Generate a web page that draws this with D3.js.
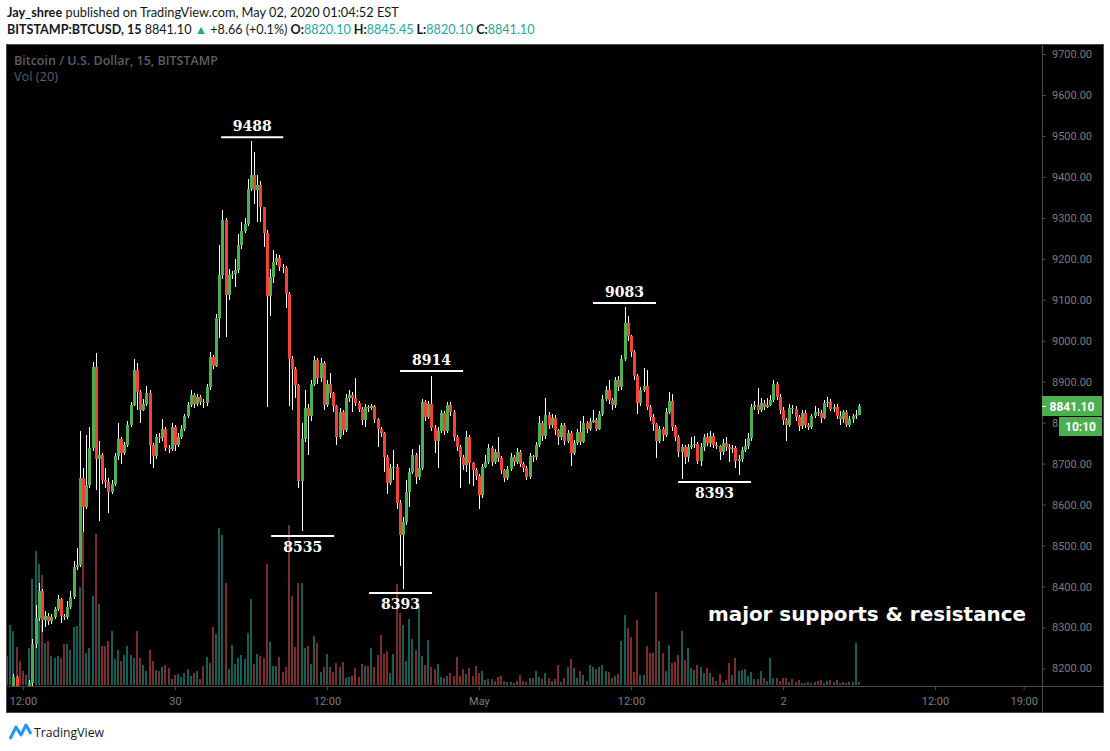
<!DOCTYPE html>
<html>
<head>
<meta charset="utf-8">
<script src="https://cdn.jsdelivr.net/npm/d3@7"></script>
<style>
  body { margin: 0; background: #fff; }
  svg { display: block; }
</style>
</head>
<body>
<svg width="1110" height="751"></svg>
<script>
// BTCUSD 15m candles, Apr 29 - May 2 2020 (open = previous close)
var firstOpen = 8100;
var closes = [
  8120,8138,8178,8150,8132,8118,8126,8165,8260,8322,
  8390,8318,8328,8315,8326,8345,8370,8328,8325,8350,
  8375,8448,8452,8665,8595,8648,8738,8935,8712,8722,
  8660,8655,8630,8650,8718,8760,8726,8745,8795,8843,
  8928,8875,8832,8845,8872,8745,8718,8765,8762,8785,
  8738,8735,8790,8745,8765,8785,8815,8843,8868,8845,
  8862,8850,8848,8887,8960,8938,9055,9160,9295,9112,
  9160,9163,9172,9233,9268,9285,9370,9405,9368,9380,
  9326,9263,9109,9155,9192,9202,9181,9178,9115,8955,
  8930,8892,8657,8760,8835,8815,8895,8952,8908,8945,
  8843,8895,8872,8840,8765,8826,8782,8860,8868,8860,
  8848,8833,8806,8838,8836,8840,8809,8785,8775,8716,
  8653,8690,8692,8604,8525,8557,8630,8680,8721,8668,
  8690,8850,8814,8846,8787,8755,8780,8823,8780,8843,
  8826,8765,8740,8716,8697,8765,8701,8685,8670,8624,
  8692,8705,8738,8705,8728,8714,8684,8665,8688,8717,
  8705,8728,8700,8690,8668,8718,8715,8745,8800,8767,
  8819,8794,8811,8782,8765,8794,8755,8775,8726,8750,
  8777,8753,8799,8785,8802,8807,8785,8821,8858,8880,
  8855,8843,8904,8887,8955,9043,9011,8972,8914,8848,
  8880,8890,8838,8814,8797,8755,8785,8770,8826,8853,
  8790,8765,8728,8740,8716,8740,8745,8748,8706,8740,
  8765,8750,8767,8745,8743,8728,8750,8740,8736,8738,
  8706,8711,8733,8743,8763,8838,8843,8831,8848,8838,
  8843,8855,8894,8863,8831,8806,8794,8836,8833,8814,
  8792,8824,8794,8789,8816,8826,8824,8811,8848,8850,
  8833,8838,8816,8809,8826,8795,8809,8816,8819,8841.1
];
var highs = [
  8132,8145,8186,8182,8155,8138,8135,8172,8272,8355,
  8408,8395,8340,8335,8332,8350,8378,8372,8332,8365,
  8390,8462,8495,8780,8690,8770,8790,8948,8970,8755,
  8725,8690,8665,8660,8725,8800,8765,8752,8805,8850,
  8955,8945,8880,8858,8890,8880,8750,8772,8775,8810,
  8790,8745,8800,8795,8775,8795,8822,8850,8880,8872,
  8870,8868,8858,8895,8972,8965,9065,9233,9318,9300,
  9175,9170,9200,9260,9290,9300,9395,9487,9460,9405,
  9390,9325,9270,9175,9222,9212,9210,9188,9182,9120,
  8962,8935,8895,8800,8880,8845,8905,8962,8958,8958,
  8950,8905,8920,8875,8842,8835,8830,8870,8880,8875,
  8910,8852,8838,8845,8842,8845,8842,8812,8790,8778,
  8720,8700,8732,8700,8610,8570,8660,8690,8735,8725,
  8745,8858,8855,8852,8914,8795,8790,8830,8828,8850,
  8850,8830,8770,8745,8720,8780,8770,8705,8690,8675,
  8700,8720,8748,8742,8735,8765,8718,8688,8695,8725,
  8722,8738,8732,8705,8695,8725,8722,8752,8815,8805,
  8860,8825,8820,8818,8785,8800,8800,8782,8780,8758,
  8785,8805,8815,8805,8812,8830,8812,8828,8868,8890,
  8905,8860,8912,8915,8965,9083,9060,9015,8978,8918,
  8888,8933,8928,8842,8822,8800,8792,8790,8835,8875,
  8870,8795,8770,8748,8745,8748,8765,8768,8752,8750,
  8772,8775,8780,8775,8752,8745,8760,8765,8748,8745,
  8742,8720,8740,8760,8775,8845,8852,8885,8860,8855,
  8860,8868,8904,8900,8870,8838,8812,8845,8842,8840,
  8818,8830,8830,8800,8822,8840,8835,8830,8855,8862,
  8858,8845,8845,8828,8832,8830,8815,8822,8830,8845.45
];
var lows = [
  8092,8112,8130,8140,8120,8105,8110,8120,8158,8250,
  8315,8290,8300,8305,8308,8320,8340,8310,8318,8320,
  8345,8370,8440,8448,8533,8590,8640,8730,8635,8560,
  8650,8640,8580,8625,8645,8710,8700,8720,8740,8790,
  8840,8830,8800,8828,8840,8700,8690,8712,8750,8755,
  8730,8725,8730,8730,8740,8760,8780,8812,8838,8835,
  8840,8842,8835,8840,8880,8930,8935,9006,9150,9008,
  9100,9150,9130,9165,9225,9262,9280,9365,9335,9290,
  9290,9230,8837,9060,9140,9185,9170,9165,9080,8840,
  8830,8860,8640,8535,8752,8722,8805,8890,8895,8900,
  8830,8838,8860,8825,8745,8760,8770,8778,8850,8825,
  8840,8825,8795,8790,8825,8830,8800,8740,8765,8680,
  8626,8648,8660,8590,8450,8393,8550,8595,8675,8650,
  8660,8685,8805,8808,8780,8727,8690,8775,8770,8775,
  8815,8755,8730,8640,8685,8680,8650,8645,8660,8590,
  8615,8690,8700,8695,8700,8705,8675,8655,8660,8683,
  8695,8700,8692,8680,8660,8662,8705,8710,8740,8755,
  8760,8785,8788,8770,8745,8758,8745,8750,8695,8720,
  8745,8745,8750,8775,8780,8798,8780,8782,8815,8852,
  8845,8830,8835,8878,8880,8950,9000,8960,8905,8820,
  8840,8875,8830,8805,8780,8714,8750,8755,8765,8820,
  8780,8755,8715,8662,8700,8705,8735,8738,8700,8695,
  8730,8742,8740,8738,8735,8710,8720,8730,8705,8725,
  8690,8672,8705,8728,8735,8755,8832,8822,8825,8830,
  8835,8840,8850,8855,8820,8795,8755,8790,8820,8805,
  8780,8785,8788,8782,8785,8812,8815,8800,8808,8838,
  8828,8825,8810,8795,8800,8790,8790,8798,8810,8819
];
var volumes = [
  29,60,54,38,24,14,10,37,106,134,
  121,110,42,44,29,27,29,27,41,41,
  35,58,59,98,153,32,37,89,151,81,
  39,39,44,54,26,35,24,30,39,30,
  27,54,27,20,14,35,24,15,14,18,
  20,17,6,10,11,8,12,16,9,12,
  14,6,19,28,22,58,51,157,150,102,
  16,40,21,27,30,26,52,86,21,31,
  29,27,121,43,19,19,28,13,18,160,
  89,38,102,102,37,39,21,49,42,13,
  18,31,18,13,22,18,23,7,8,9,
  17,8,21,19,19,37,18,30,50,31,
  34,12,31,101,72,60,24,66,46,35,
  79,29,20,45,18,16,21,8,7,9,
  12,9,28,9,16,11,17,9,19,12,
  14,5,6,6,4,8,9,4,3,3,
  2,4,10,4,3,7,7,14,8,6,
  12,7,4,6,20,3,7,18,26,17,
  7,14,10,4,20,18,16,18,20,14,
  13,7,9,11,44,70,57,48,13,65,
  10,10,39,32,32,93,44,32,14,40,
  22,23,30,54,25,37,17,15,20,18,
  12,17,12,8,4,11,2,5,22,10,
  27,14,15,16,9,13,6,6,14,7,
  4,27,7,7,4,7,7,3,6,3,
  5,2,2,3,2,3,4,5,2,4,
  5,3,5,2,3,2,3,3,42,3
];

var priceTicks = [8200,8300,8400,8500,8600,8700,8800,8900,9000,9100,9200,9300,9400,9500,9600,9700];
var timeTicks = [
  Date.UTC(2020,3,29,12), Date.UTC(2020,3,30,0), Date.UTC(2020,3,30,12),
  Date.UTC(2020,4,1,0), Date.UTC(2020,4,1,12), Date.UTC(2020,4,2,0),
  Date.UTC(2020,4,2,12), Date.UTC(2020,4,2,19)
];
var timeLabels = ["12:00", "30", "12:00", "May", "12:00", "2", "12:00", "19:00"];

// hand drawn levels (bar index = position in the series)
var annLabels = ["9488", "8535", "8914", "8393", "9083", "8393"];
var annLevels = [9497, 8523, 8926, 8384, 9092, 8655];
var annFrom   = [67.6, 83.4, 124.1, 114.3, 185, 211.9];
var annTo     = [87.2, 103.3, 144, 134.2, 204.9, 234.9];
var annAbove  = [true, false, true, false, true, false];

var lastPrice = 8841.10;
var countdown = "10:10";

var firstBar = Date.UTC(2020, 3, 29, 10, 45),
    barMs = 15 * 60000;

var svg = d3.select("svg"),
    width = +svg.attr("width"),
    height = +svg.attr("height");

var pane = {left: 6, right: 1042, top: 44, bottom: 686},
    frame = {right: 1104, bottom: 713};

var upColor = "#4caf50", downColor = "#f44336",
    volUp = "#175e57", volDown = "#7c2d2b",
    axisGrey = "#7c7c7c", lineGrey = "#4a4a4a";

// 3.167px per 15 minute bar
var pxPerBar = 3.167;
var t0 = firstBar - barMs / 3;
var x = d3.scaleTime()
    .domain([t0, t0 + (pane.right - pane.left) / pxPerBar * barMs])
    .range([pane.left, pane.right]);

var y = d3.scaleLinear()
    .domain([8200, 9700])
    .range([668.4, 54]);

var yVol = d3.scaleLinear()
    .domain([0, d3.max(volumes)])
    .range([pane.bottom - 1, pane.bottom - 161]);

var bars = closes.map(function(c, i) {
    var o = i === 0 ? firstOpen : closes[i - 1];
    return {
        t: firstBar + i * barMs,
        open: o, close: c,
        high: Math.max(highs[i], o, c),
        low: Math.min(lows[i], o, c),
        vol: volumes[i],
        up: c >= o
    };
});

svg.append("rect")
    .attr("width", width).attr("height", height)
    .attr("fill", "#fff");

// shrink a text line until it fits the width it has in the screenshot
function fitWidth(sel, w) {
    var node = sel.node(), fs = parseFloat(sel.style("font-size"));
    var len = node.getComputedTextLength();
    if (len > w) sel.style("font-size", (fs * w / len) + "px");
}

// header lines
var head1 = svg.append("text")
    .attr("x", 7).attr("y", 16.5)
    .style("font-family", "Lato, sans-serif").style("font-size", "13.5px")
    .attr("fill", "#131722");
head1.append("tspan").style("font-weight", "bold").text("Jay_shree");
head1.append("tspan").text(" published on TradingView.com, May 02, 2020 01:04:52 EST");
fitWidth(head1, 392);

var head2 = svg.append("text")
    .attr("x", 7).attr("y", 33.5)
    .style("font-family", "Lato, sans-serif").style("font-size", "13.5px")
    .attr("fill", "#131722");
[
    ["BITSTAMP:BTCUSD, 15 ", "bold", "#131722"],
    ["8841.10 ", "normal", "#131722"],
    ["\u25B2", "normal", "#26a69a"],
    [" +8.66 (+0.1%) ", "normal", "#131722"],
    ["O:", "bold", "#131722"], ["8820.10", "normal", "#26a69a"],
    [" H:", "bold", "#131722"], ["8845.45", "normal", "#26a69a"],
    [" L:", "bold", "#131722"], ["8820.10", "normal", "#26a69a"],
    [" C:", "bold", "#131722"], ["8841.10", "normal", "#26a69a"]
].forEach(function(p) {
    head2.append("tspan").style("font-weight", p[1]).attr("fill", p[2]).text(p[0]);
});
fitWidth(head2, 528);

// dark chart frame
svg.append("rect")
    .attr("x", pane.left + 0.5).attr("y", pane.top + 0.5)
    .attr("width", frame.right - pane.left - 1).attr("height", frame.bottom - pane.top - 1)
    .attr("fill", "#000").attr("stroke", lineGrey);

svg.append("clipPath").attr("id", "paneClip")
    .append("rect")
    .attr("x", pane.left + 1).attr("y", pane.top + 1)
    .attr("width", pane.right - pane.left - 1).attr("height", pane.bottom - pane.top - 1);

var plot = svg.append("g").attr("clip-path", "url(#paneClip)")
    .attr("shape-rendering", "crispEdges");

// volume
plot.append("g").selectAll("rect")
    .data(bars)
    .enter().append("rect")
    .attr("x", function(d) { return Math.round(x(d.t)) - 1; })
    .attr("width", 2)
    .attr("y", function(d) { return yVol(d.vol); })
    .attr("height", function(d) { return yVol(0) - yVol(d.vol); })
    .attr("fill", function(d) { return d.up ? volUp : volDown; });

// wicks
plot.append("g").selectAll("rect")
    .data(bars)
    .enter().append("rect")
    .attr("x", function(d) { return Math.round(x(d.t)); })
    .attr("width", 1)
    .attr("y", function(d) { return y(d.high); })
    .attr("height", function(d) { return Math.max(1, y(d.low) - y(d.high)); })
    .attr("fill", "#fff");

// bodies
plot.append("g").selectAll("rect")
    .data(bars)
    .enter().append("rect")
    .attr("x", function(d) { return Math.round(x(d.t)) - 1; })
    .attr("width", 3)
    .attr("y", function(d) { return y(Math.max(d.open, d.close)); })
    .attr("height", function(d) { return Math.max(1, Math.abs(y(d.open) - y(d.close))); })
    .attr("fill", function(d) { return d.up ? upColor : downColor; });

// support / resistance marks
var ann = svg.append("g");
annLabels.forEach(function(lab, i) {
    var x1 = x(firstBar + annFrom[i] * barMs),
        x2 = x(firstBar + annTo[i] * barMs),
        ly = y(annLevels[i]);
    ann.append("line")
        .attr("x1", x1).attr("x2", x2)
        .attr("y1", ly).attr("y2", ly)
        .attr("stroke", "#fff").attr("stroke-width", 2);
    ann.append("text")
        .attr("x", (x1 + x2) / 2)
        .attr("y", annAbove[i] ? ly - 6.5 : ly + 16)
        .attr("text-anchor", "middle")
        .style("font-family", "DejaVu Serif, serif")
        .style("font-weight", "bold").style("font-size", "14px")
        .attr("fill", "#fff")
        .text(lab);
});

svg.append("text")
    .attr("x", 708).attr("y", 621)
    .attr("textLength", 318).attr("lengthAdjust", "spacingAndGlyphs")
    .style("font-family", "DejaVu Sans, sans-serif")
    .style("font-weight", "bold").style("font-size", "19px")
    .attr("fill", "#fff")
    .text("major supports & resistance");

// legend inside pane
svg.append("text")
    .attr("x", 14).attr("y", 64.5)
    .attr("textLength", 204).attr("lengthAdjust", "spacingAndGlyphs")
    .style("font-family", "Open Sans, sans-serif").style("font-weight", 600)
    .style("font-size", "13px").attr("fill", "#5d5f63")
    .text("Bitcoin / U.S. Dollar, 15, BITSTAMP");
svg.append("text")
    .attr("x", 14).attr("y", 81)
    .attr("textLength", 44).attr("lengthAdjust", "spacingAndGlyphs")
    .style("font-family", "Open Sans, sans-serif")
    .style("font-size", "13px").attr("fill", "#5d5f63")
    .text("Vol (20)");

// price axis
var yAxis = svg.append("g")
    .attr("transform", "translate(" + pane.right + ",0)")
    .call(d3.axisRight(y).tickValues(priceTicks)
        .tickFormat(d3.format(".2f")).tickSize(4).tickPadding(6));
yAxis.select(".domain").remove();
yAxis.selectAll("line").attr("stroke", lineGrey);
yAxis.selectAll("text").attr("fill", axisGrey)
    .style("font-family", "Roboto, sans-serif").style("font-size", "11px");

// time axis
var xAxis = svg.append("g")
    .attr("transform", "translate(0," + pane.bottom + ")")
    .call(d3.axisBottom(x).tickValues(timeTicks)
        .tickFormat(function(d, i) { return timeLabels[i]; })
        .tickSize(4).tickPadding(7));
xAxis.select(".domain").remove();
xAxis.selectAll("line").attr("stroke", lineGrey);
xAxis.selectAll("text").attr("fill", axisGrey)
    .style("font-family", "Roboto, sans-serif").style("font-size", "11px");

// separators
svg.append("line")
    .attr("x1", pane.right + 0.5).attr("x2", pane.right + 0.5)
    .attr("y1", pane.top).attr("y2", frame.bottom)
    .attr("stroke", lineGrey);
svg.append("line")
    .attr("x1", pane.left).attr("x2", frame.right)
    .attr("y1", pane.bottom + 0.5).attr("y2", pane.bottom + 0.5)
    .attr("stroke", lineGrey);

// last price + countdown
var ly = Math.round(y(lastPrice));
svg.append("rect")
    .attr("x", pane.right).attr("y", ly - 10)
    .attr("width", 60).attr("height", 20).attr("fill", upColor);
svg.append("line")
    .attr("x1", pane.right).attr("x2", pane.right + 4)
    .attr("y1", ly + 0.5).attr("y2", ly + 0.5).attr("stroke", "#fff");
svg.append("text")
    .attr("x", pane.right + 30).attr("y", ly + 4.5)
    .attr("text-anchor", "middle")
    .style("font-family", "Roboto, sans-serif").style("font-weight", "bold")
    .style("font-size", "12px").attr("fill", "#fff")
    .text(d3.format(".2f")(lastPrice));
svg.append("rect")
    .attr("x", pane.right + 17).attr("y", ly + 11)
    .attr("width", 43).attr("height", 19).attr("fill", upColor);
svg.append("text")
    .attr("x", pane.right + 38.5).attr("y", ly + 25)
    .attr("text-anchor", "middle")
    .style("font-family", "Roboto, sans-serif").style("font-weight", "bold")
    .style("font-size", "12px").attr("fill", "#fff")
    .text(countdown);

// TradingView footer
svg.append("path")
    .attr("d", "M10,739 L16,727 L21,735 L26,725 L31,734")
    .attr("fill", "none").attr("stroke", "#2196f3")
    .attr("stroke-width", 3).attr("stroke-linejoin", "round");
svg.append("text")
    .attr("x", 34).attr("y", 737)
    .attr("textLength", 70).attr("lengthAdjust", "spacingAndGlyphs")
    .style("font-family", "Open Sans, sans-serif").style("font-size", "13px")
    .attr("fill", "#131722")
    .text("TradingView");
</script>
</body>
</html>
